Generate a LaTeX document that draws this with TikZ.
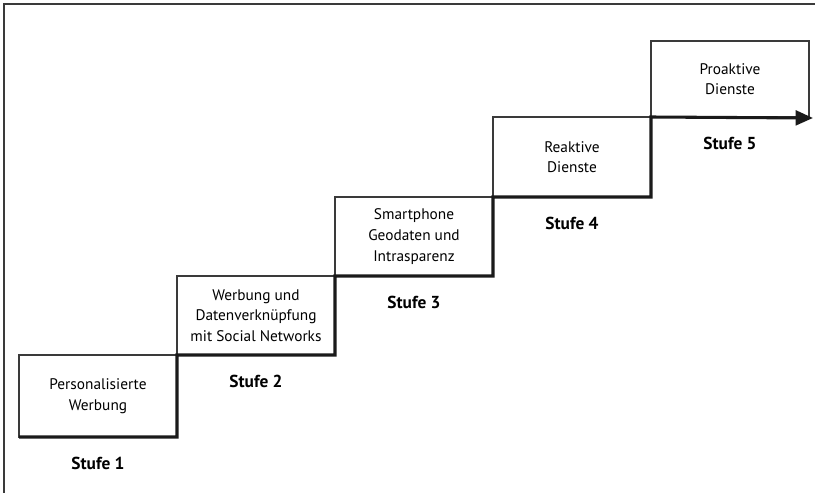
\documentclass[tikz,border=0pt]{standalone}
\usepackage{fontspec}
\setmainfont{PT Sans}
\usetikzlibrary{arrows.meta,positioning}
\definecolor{thinline}{HTML}{3A3A3A}
\definecolor{thickline}{HTML}{1A1A1A}
\begin{document}
\begin{tikzpicture}[x=0.75pt,y=-0.75pt,
  stepbox/.style={draw=thinline,line width=1.1pt,outer sep=0pt,inner sep=0pt,
    minimum width=118.5pt,anchor=south west,align=center,
    font=\fontsize{11.5}{15.5}\selectfont},
  stair/.style={draw=thickline,line width=2.3pt,line join=miter},
  stufe/.style={font=\fontsize{13}{15}\selectfont\bfseries,inner sep=0pt},
  frame/.style={draw=thinline,line width=1.1pt}]
\useasboundingbox (0,0) rectangle (815,493);
\coordinate (ftr) at (815,4);
\coordinate (ftl) at (4,4);
\coordinate (fbl) at (4,493);
\draw[frame] (ftr) -- (ftl) -- (fbl);
\coordinate (s0) at (19,437);
\node[stepbox,minimum height=61.5pt] (b1) at (s0) {Personalisierte\\Werbung};
\node[stepbox,minimum height=59.25pt] (b2) at (b1.north east) {Werbung und\\Datenverknüpfung\\mit Social Networks};
\node[stepbox,minimum height=59.25pt] (b3) at (b2.north east) {Smartphone\\Geodaten und\\Intrasparenz};
\node[stepbox,minimum height=60pt] (b4) at (b3.north east) {Reaktive\\Dienste};
\node[stepbox,minimum height=57pt,text depth=-2pt] (b5) at (b4.north east) {Proaktive\\Dienste};
\coordinate (tip) at (813,118);
\draw[stair,-{Triangle[length=13pt,width=11pt]}] (b1.south west) -- (b1.south east) -- (b2.south west) -- (b2.south east) -- (b3.south west) -- (b3.south east) -- (b4.south west) -- (b4.south east) -- (b5.south west) -- (tip);
\node[stufe,below=15pt of b1.south] (l1) {Stufe 1};
\node[stufe,below=15pt of b2.south] (l2) {Stufe 2};
\node[stufe,below=15pt of b3.south] (l3) {Stufe 3};
\node[stufe,below=15pt of b4.south] (l4) {Stufe 4};
\node[stufe,below=15pt of b5.south] (l5) {Stufe 5};
\end{tikzpicture}
\end{document}
